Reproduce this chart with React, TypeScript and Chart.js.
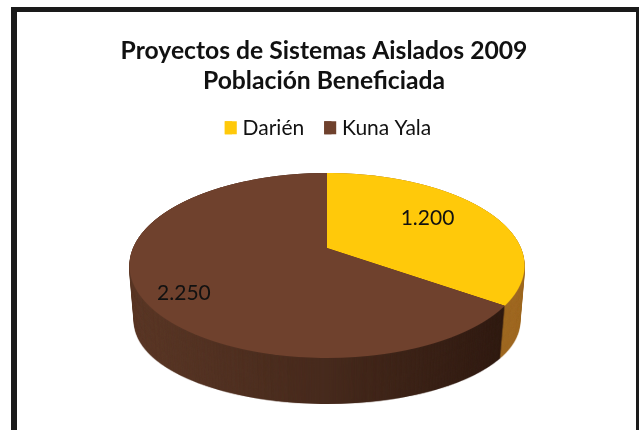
import React, { useEffect, useRef } from "react";
import { Chart, registerables } from "chart.js";

Chart.register(...registerables);

const titleLines = ["Proyectos de Sistemas Aislados 2009", "Población Beneficiada"];
const categories = ["Darién", "Kuna Yala"];
const values = [1200, 2250];
const valueLabels = ["1.200", "2.250"];
const topColors = ["#FFC90A", "#6F412D"];
const wallColors = ["#A06A24", "#5C3928"];

// Perspective of the tilted pie: canvas position of a point (u, v) on the unit disc
const VIEW = { cx: 327, y0: 248, a: 194, b: 89.2, k: -0.189, top: 173, bottom: 358 };
const WALL = { depth: 46, shrinkX: 0.025, shrinkY: 0.118 };
const LABEL_RADIUS = [0.66, 0.81];
const LABEL_NUDGE = [[-7, -4], [7, 9]];
const LEGEND_SHIFT = 4;
const LEGEND_BOX = 12;
const FONT = "Lato, 'Open Sans', sans-serif";

function drawProjected(c: CanvasRenderingContext2D, els: any[], colors: string[]) {
  const { cx, y0, a, b, k, top, bottom } = VIEW;
  const R = els[0].outerRadius;
  const ox = els[0].x;
  const oy = els[0].y;
  for (let row = top - 2; row < bottom + 2; row++) {
    const yp = row + 0.5 - y0;
    const v = yp / (b - k * yp);
    const w = 1 + k * v;
    const sx = a / w / R;
    const sy = b / (w * w) / R;
    c.save();
    c.beginPath();
    c.rect(0, row, c.canvas.width, 1);
    c.clip();
    c.setTransform(sx, 0, 0, sy, cx - sx * ox, row + 0.5 - sy * (oy + R * v));
    els.forEach((el, i) => {
      const saved = el.options;
      el.options = { ...saved, backgroundColor: colors[i], borderWidth: 0 };
      el.draw(c);
      el.options = saved;
    });
    c.restore();
  }
}

const framePlugin = {
  id: "frame",
  afterLayout(chart: any) {
    chart.legend.left += LEGEND_SHIFT;
    chart.legend.right += LEGEND_SHIFT;
  },
  beforeDraw(chart: any) {
    const c = chart.ctx;
    c.save();
    c.fillStyle = "#1a1a1a";
    c.fillRect(11, 7, 628, 5);
    c.fillRect(11, 7, 6, chart.height - 7);
    c.fillRect(636, 7, 3, chart.height - 7);
    c.restore();
  },
};

const pie3dPlugin = {
  id: "pie3d",
  beforeDatasetsDraw(chart: any) {
    const els = chart.getDatasetMeta(0).data;
    const W = chart.width;
    const H = chart.height;
    const { cx, bottom } = VIEW;

    const mk = () => {
      const cv = document.createElement("canvas");
      cv.width = W;
      cv.height = H;
      return cv;
    };
    // silhouette of the side wall: the brown slice is shaded left to right, the yellow one stays flat
    const sil = mk();
    const sc = sil.getContext("2d")!;
    drawProjected(sc, [els[1]], [wallColors[1]]);
    sc.globalCompositeOperation = "source-atop";
    const g = sc.createLinearGradient(130, 0, 510, 0);
    g.addColorStop(0, "rgba(20,8,4,0)");
    g.addColorStop(0.5, "rgba(20,8,4,0.28)");
    g.addColorStop(1, "rgba(20,8,4,0.6)");
    sc.fillStyle = g;
    sc.fillRect(0, 0, W, H);
    sc.globalCompositeOperation = "source-over";
    drawProjected(sc, [els[0]], [wallColors[0]]);

    const wall = mk();
    const wc = wall.getContext("2d")!;
    for (let d = WALL.depth; d >= 0; d -= 0.5) {
      const t = d / WALL.depth;
      const sx = 1 - WALL.shrinkX * t;
      const sy = 1 - WALL.shrinkY * t;
      wc.drawImage(sil, cx - cx * sx, bottom + d - bottom * sy, W * sx, H * sy);
    }

    const c = chart.ctx;
    c.drawImage(wall, 0, 0);
    drawProjected(c, els, topColors);

    // value labels
    c.save();
    c.fillStyle = "#111";
    c.font = `21px ${FONT}`;
    c.textAlign = "center";
    c.textBaseline = "middle";
    els.forEach((el: any, i: number) => {
      const mid = (el.startAngle + el.endAngle) / 2;
      const u = LABEL_RADIUS[i] * Math.cos(mid);
      const v = LABEL_RADIUS[i] * Math.sin(mid);
      const w = 1 + VIEW.k * v;
      c.fillText(
        valueLabels[i],
        VIEW.cx + (VIEW.a * u) / w + LABEL_NUDGE[i][0],
        VIEW.y0 + (VIEW.b * v) / w + LABEL_NUDGE[i][1]
      );
    });
    c.restore();
    return false;
  },
  afterDraw(chart: any) {
    // legend swatches are wider than the gap Chart.js leaves before the text
    const c = chart.ctx;
    const items = chart.legend.legendItems;
    chart.legend.legendHitBoxes.forEach((box: any, i: number) => {
      c.fillStyle = items[i].fillStyle;
      c.fillRect(box.left, box.top + (box.height - 13) / 2, LEGEND_BOX, 13);
    });
  },
};

export default function App() {
  const ref = useRef<HTMLCanvasElement>(null);
  useEffect(() => {
    const chart = new Chart(ref.current!, {
      type: "pie",
      data: {
        labels: categories,
        datasets: [{ data: values, backgroundColor: topColors, borderWidth: 0 }],
      },
      options: {
        animation: false,
        responsive: false,
        layout: { padding: { left: 9, top: 36, right: 0, bottom: 10 } },
        plugins: {
          title: {
            display: true,
            text: titleLines,
            color: "#111",
            font: { family: FONT, size: 24.7, weight: "bold", lineHeight: 1.22 },
            padding: { top: 0, bottom: 1 },
          },
          legend: {
            display: true,
            position: "top",
            labels: {
              color: "#111",
              font: { family: FONT, size: 21 },
              boxWidth: 7.3,
              boxHeight: 13,
              padding: 20,
            },
          },
          tooltip: { enabled: false },
        },
      },
      plugins: [framePlugin, pie3dPlugin],
    } as any);
    return () => chart.destroy();
  }, []);
  return (
    <div style={{ position: "fixed", left: 0, top: 0, width: 639, height: 430, background: "#fff" }}>
      <canvas ref={ref} width={639} height={430} style={{ display: "block", filter: "blur(0.6px)" }} />
    </div>
  );
}
